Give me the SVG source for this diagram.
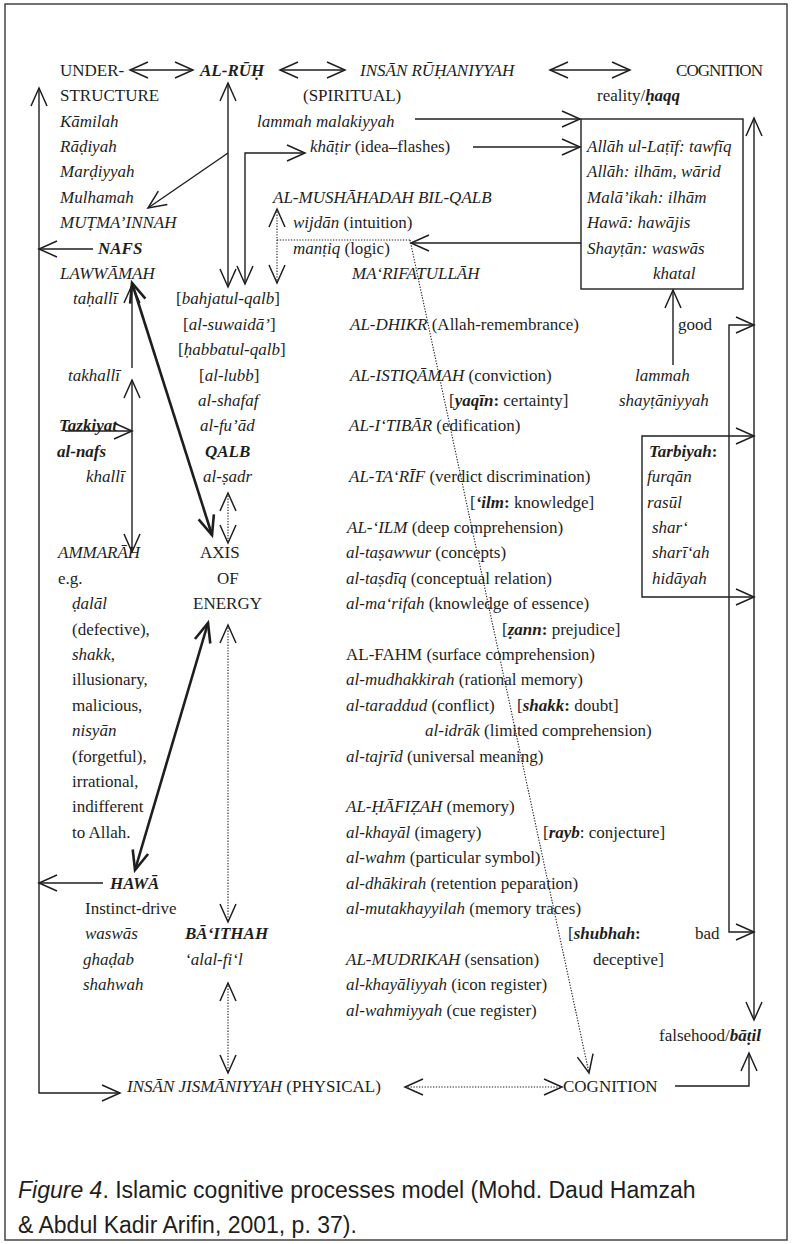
<svg xmlns="http://www.w3.org/2000/svg" width="792" height="1244" viewBox="0 0 792 1244">
<style>
text { font-family: "Liberation Serif", "Times New Roman", serif; font-size: 17px; fill: #1e1e1e; }
.i { font-style: italic; }
.b { font-weight: bold; }
.bi { font-style: italic; font-weight: bold; }
.ln { fill: none; stroke: #1e1e1e; stroke-width: 1.4; }
.bd { fill: none; stroke: #1e1e1e; stroke-width: 2.6; }
.dt { fill: none; stroke: #1e1e1e; stroke-width: 1.1; stroke-dasharray: 1.3 1.5; }
.cap { font-family: "Liberation Sans", Arial, sans-serif; font-size: 23px; }
</style>
<defs>
<marker id="a" markerUnits="userSpaceOnUse" markerWidth="44" markerHeight="44" viewBox="-22 -22 44 44" refX="0" refY="0" orient="auto-start-reverse" overflow="visible">
<path d="M-18,-8 L0,0 L-18,8" fill="none" stroke="#1e1e1e" stroke-width="1.5"/>
</marker>
<marker id="ab" markerUnits="userSpaceOnUse" markerWidth="44" markerHeight="44" viewBox="-22 -22 44 44" refX="0" refY="0" orient="auto-start-reverse" overflow="visible">
<path d="M-19,-8 L0,0 L-19,8" fill="none" stroke="#1e1e1e" stroke-width="2.6"/>
</marker>
</defs>
<rect x="0" y="0" width="792" height="1244" fill="#ffffff"/>
<rect x="5" y="4" width="782" height="1236" fill="none" stroke="#444" stroke-width="1.5"/>

<g id="connectors">
<line class="ln" x1="130" y1="70" x2="193" y2="70" marker-start="url(#a)" marker-end="url(#a)"/>
<line class="ln" x1="280" y1="70" x2="345" y2="70" marker-start="url(#a)" marker-end="url(#a)"/>
<line class="ln" x1="550" y1="70" x2="630" y2="70" marker-start="url(#a)" marker-end="url(#a)"/>
<path class="ln" d="M39,88 L39,1093 L120,1093" marker-start="url(#a)" marker-end="url(#a)"/>
<line class="ln" x1="93" y1="249" x2="39" y2="249" marker-end="url(#a)"/>
<line class="ln" x1="103" y1="883" x2="39" y2="883" marker-end="url(#a)"/>
<line class="ln" x1="228" y1="83" x2="228" y2="287" marker-start="url(#a)" marker-end="url(#a)"/>
<line class="ln" x1="228" y1="153" x2="148" y2="208" stroke-width="2" marker-end="url(#a)"/>
<path class="ln" d="M245,284 L245,153 L305,153" marker-start="url(#a)" marker-end="url(#a)"/>
<line class="ln" x1="415" y1="119" x2="580" y2="119" marker-end="url(#a)"/>
<line class="ln" x1="473" y1="147" x2="580" y2="147" marker-end="url(#a)"/>
<rect class="ln" x="581" y="119" width="162" height="170"/>
<line class="ln" x1="581" y1="243" x2="411" y2="243" marker-end="url(#a)"/>
<line class="dt" x1="277" y1="209" x2="277" y2="283" marker-start="url(#a)" marker-end="url(#a)"/>
<line class="dt" x1="277" y1="240" x2="410" y2="240"/>
<line class="dt" x1="410" y1="240" x2="589" y2="1073" marker-end="url(#a)"/>
<line class="ln" x1="673" y1="365" x2="673" y2="290" marker-end="url(#a)"/>
<line class="ln" x1="754" y1="118" x2="754" y2="1020" marker-start="url(#a)" marker-end="url(#a)"/>
<path class="ln" d="M754,325 L729,325 L729,932 L754,932" marker-start="url(#a)" marker-end="url(#a)"/>
<path class="ln" d="M754,436 L642,436 L642,597 L754,597" marker-start="url(#a)" marker-end="url(#a)"/>
<line class="bd" x1="132" y1="283" x2="212" y2="535" marker-start="url(#ab)" marker-end="url(#ab)"/>
<line class="ln" x1="132" y1="285" x2="132" y2="368" marker-start="url(#a)"/>
<line class="ln" x1="132" y1="380" x2="132" y2="552" marker-start="url(#a)" marker-end="url(#a)"/>
<line class="ln" x1="65" y1="431" x2="132" y2="431" marker-end="url(#a)"/>
<line class="dt" x1="228" y1="493" x2="228" y2="543" marker-start="url(#a)" marker-end="url(#a)"/>
<line class="dt" x1="228" y1="625" x2="228" y2="922" marker-start="url(#a)" marker-end="url(#a)"/>
<line class="bd" x1="208" y1="623" x2="135" y2="870" marker-start="url(#ab)" marker-end="url(#ab)"/>
<line class="dt" x1="228" y1="983" x2="228" y2="1073" marker-start="url(#a)" marker-end="url(#a)"/>
<line class="dt" x1="405" y1="1087" x2="562" y2="1087" marker-start="url(#a)" marker-end="url(#a)"/>
<path class="ln" d="M675,1086 L749,1086 L749,1053" marker-end="url(#a)"/>
</g>

<g id="understructure">
<text x="60" y="76">UNDER-</text>
<text x="60" y="101">STRUCTURE</text>
<text x="60" y="126.5" class="i">Kāmilah</text>
<text x="60" y="152" class="i">Rāḍiyah</text>
<text x="60" y="177" class="i">Marḍiyyah</text>
<text x="60" y="203" class="i">Mulhamah</text>
<text x="60" y="228" class="i">MUṬMA’INNAH</text>
<text x="98" y="253.5" class="bi">NAFS</text>
<text x="60" y="279" class="i">LAWWĀMAH</text>
<text x="73" y="304" class="i">taḥallī</text>
<text x="68" y="380.5" class="i">takhallī</text>
<text x="59" y="431" class="bi">Tazkiyat</text>
<text x="57" y="456.7" class="bi">al-nafs</text>
<text x="86" y="482" class="i">khallī</text>
<text x="58" y="558" class="i">AMMARĀH</text>
<text x="58" y="583.7">e.g.</text>
<text x="72" y="609" class="i">ḍalāl</text>
<text x="72" y="634.5">(defective),</text>
<text x="72" y="660"><tspan class="i">shakk</tspan>,</text>
<text x="72" y="685">illusionary,</text>
<text x="72" y="710.7">malicious,</text>
<text x="72" y="736" class="i">nisyān</text>
<text x="72" y="761.5">(forgetful),</text>
<text x="72" y="787">irrational,</text>
<text x="72" y="812">indifferent</text>
<text x="72" y="837.7">to Allah.</text>
</g>

<g id="hawa">
<text x="110" y="888.5" class="bi">HAWĀ</text>
<text x="85" y="914">Instinct-drive</text>
<text x="85" y="939" class="i">waswās</text>
<text x="83" y="964.7" class="i">ghaḍab</text>
<text x="83" y="990" class="i">shahwah</text>
</g>

<g id="al-ruh">
<text x="200" y="76" class="bi">AL-RŪḤ</text>
</g>

<g id="qalb">
<text x="176" y="304">[<tspan class="i">bahjatul-qalb</tspan>]</text>
<text x="183" y="329.7">[<tspan class="i">al-suwaidā’</tspan>]</text>
<text x="178" y="355">[<tspan class="i">ḥabbatul-qalb</tspan>]</text>
<text x="199" y="380.5">[<tspan class="i">al-lubb</tspan>]</text>
<text x="198" y="406" class="i">al-shafaf</text>
<text x="200" y="431" class="i">al-fu’ād</text>
<text x="205" y="456.7" class="bi">QALB</text>
<text x="203" y="482" class="i">al-ṣadr</text>
</g>

<g id="axis">
<text x="200" y="558">AXIS</text>
<text x="217" y="583.7">OF</text>
<text x="193" y="609">ENERGY</text>
</g>

<g id="baithah">
<text x="185" y="939" class="bi">BĀ‘ITHAH</text>
<text x="185" y="964.7" class="i">‘alal-fi‘l</text>
</g>

<g id="insan-ruhaniyyah">
<text x="360" y="76" class="i">INSĀN RŪḤANIYYAH</text>
<text x="303" y="101">(SPIRITUAL)</text>
<text x="257" y="126.5" class="i">lammah malakiyyah</text>
<text x="310" y="152"><tspan class="i">khāṭir</tspan> (idea–flashes)</text>
</g>

<g id="mushahadah">
<text x="273" y="203" class="i">AL-MUSHĀHADAH BIL-QALB</text>
<text x="293" y="228"><tspan class="i">wijdān</tspan> (intuition)</text>
<text x="293" y="253.5"><tspan class="i">manṭiq</tspan> (logic)</text>
</g>

<g id="cognitive-levels">
<text x="352" y="279" class="i">MA‘RIFATULLĀH</text>
<text x="350" y="329.7"><tspan class="i">AL-DHIKR</tspan> (Allah-remembrance)</text>
<text x="350" y="380.5"><tspan class="i">AL-ISTIQĀMAH</tspan> (conviction)</text>
<text x="449" y="406">[<tspan class="bi">yaqīn</tspan><tspan class="b">:</tspan> certainty]</text>
<text x="349" y="431"><tspan class="i">AL-I‘TIBĀR</tspan> (edification)</text>
<text x="349" y="482"><tspan class="i">AL-TA‘RĪF</tspan> (verdict discrimination)</text>
<text x="470" y="507.5">[<tspan class="bi">‘ilm</tspan><tspan class="b">:</tspan> knowledge]</text>
<text x="347" y="533"><tspan class="i">AL-‘ILM</tspan> (deep comprehension)</text>
<text x="346" y="558"><tspan class="i">al-taṣawwur</tspan> (concepts)</text>
<text x="346" y="583.7"><tspan class="i">al-taṣdīq</tspan> (conceptual relation)</text>
<text x="346" y="609"><tspan class="i">al-ma‘rifah</tspan> (knowledge of essence)</text>
<text x="502" y="634.5">[<tspan class="bi">ẓann</tspan><tspan class="b">:</tspan> prejudice]</text>
<text x="346" y="660">AL-FAHM (surface comprehension)</text>
<text x="346" y="685"><tspan class="i">al-mudhakkirah</tspan> (rational memory)</text>
<text x="346" y="710.7"><tspan class="i">al-taraddud</tspan> (conflict)</text>
<text x="517" y="710.7">[<tspan class="bi">shakk</tspan><tspan class="b">:</tspan> doubt]</text>
<text x="425" y="736"><tspan class="i">al-idrāk</tspan> (limited comprehension)</text>
<text x="346" y="761.5"><tspan class="i">al-tajrīd</tspan> (universal meaning)</text>
<text x="346" y="812"><tspan class="i">AL-ḤĀFIẒAH</tspan> (memory)</text>
<text x="346" y="837.7"><tspan class="i">al-khayāl</tspan>  (imagery)</text>
<text x="543" y="837.7">[<tspan class="bi">rayb</tspan>: conjecture]</text>
<text x="346" y="863"><tspan class="i">al-wahm</tspan> (particular symbol)</text>
<text x="346" y="888.5"><tspan class="i">al-dhākirah</tspan>  (retention peparation)</text>
<text x="346" y="914"><tspan class="i">al-mutakhayyilah</tspan> (memory traces)</text>
<text x="568" y="939">[<tspan class="bi">shubhah</tspan><tspan class="b">:</tspan></text>
<text x="593" y="964.7">deceptive]</text>
<text x="346" y="964.7"><tspan class="i">AL-MUDRIKAH</tspan> (sensation)</text>
<text x="346" y="990"><tspan class="i">al-khayāliyyah</tspan> (icon register)</text>
<text x="346" y="1015.5"><tspan class="i">al-wahmiyyah</tspan> (cue register)</text>
</g>

<g id="cognition-top">
<text x="676" y="76" textLength="87">COGNITION</text>
<text x="597" y="101">reality/<tspan class="bi">ḥaqq</tspan></text>
</g>

<g id="sources">
<text x="587" y="152" class="i">Allāh ul-Laṭīf: tawfīq</text>
<text x="587" y="177" class="i">Allāh: ilhām, wārid</text>
<text x="587" y="203" class="i">Malā’ikah: ilhām</text>
<text x="587" y="228" class="i">Hawā:  hawājis</text>
<text x="587" y="253.5" class="i">Shayṭān: waswās</text>
<text x="653" y="279" class="i">khatal</text>
</g>

<g id="lammah-shaytaniyyah">
<text x="635" y="380.5" class="i">lammah</text>
<text x="619" y="406" class="i">shayṭāniyyah</text>
</g>

<g id="good"><text x="678" y="329.7">good</text></g>
<g id="bad"><text x="695" y="939">bad</text></g>

<g id="tarbiyah">
<text x="649" y="456.7"><tspan class="bi">Tarbiyah</tspan><tspan class="b">:</tspan></text>
<text x="647" y="482" class="i">furqān</text>
<text x="647" y="507.5" class="i">rasūl</text>
<text x="652" y="533" class="i">shar‘</text>
<text x="652" y="558" class="i">sharī‘ah</text>
<text x="652" y="583.7" class="i">hidāyah</text>
</g>

<g id="falsehood">
<text x="659" y="1041">falsehood/<tspan class="bi">bāṭil</tspan></text>
</g>

<g id="insan-jismaniyyah">
<text x="127" y="1092"><tspan class="i">INSĀN JISMĀNIYYAH</tspan> (PHYSICAL)</text>
</g>

<g id="cognition-bottom">
<text x="563" y="1092">COGNITION</text>
</g>

<g id="caption">
<text class="cap" x="18" y="1198"><tspan font-style="italic">Figure 4</tspan>. Islamic cognitive processes model (Mohd. Daud Hamzah</text>
<text class="cap" x="18" y="1233">&amp; Abdul Kadir Arifin, 2001, p. 37).</text>
</g>
</svg>
